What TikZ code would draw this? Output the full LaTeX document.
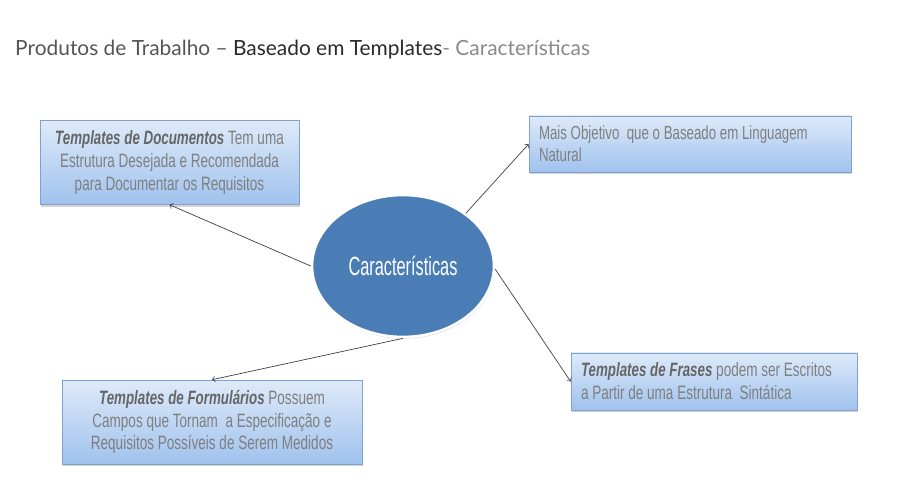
\documentclass[tikz,border=0pt]{standalone}
\usepackage{fontspec}
\usepackage{xcolor}
\usepackage{tikz}
\usetikzlibrary{positioning,shadows,shapes.geometric}
\setmainfont{Liberation Sans}
\newfontfamily\boxfont[FakeStretch=0.7]{Liberation Sans}
\newfontfamily\tplfont[FakeStretch=0.69]{Liberation Sans}
\newfontfamily\ellfont[FakeStretch=0.62]{Liberation Sans}
\newfontfamily\titlefont{Lato}

\definecolor{boxtop}{HTML}{DEEAF9}
\definecolor{boxbottom}{HTML}{A0C2EE}
\definecolor{boxline}{HTML}{7EA1CE}
\definecolor{textgray}{HTML}{7F7F7F}
\definecolor{tplgray}{HTML}{666666}
\definecolor{ellblue}{HTML}{4A7DB5}
\definecolor{titlemid}{HTML}{555555}
\definecolor{titledark}{HTML}{2A2A2A}
\definecolor{titlelight}{HTML}{8A8A8A}

\newcommand{\tplname}[1]{{\tplfont\bfseries\itshape\color{tplgray}#1}}

\begin{document}
\begin{tikzpicture}[
        template/.style={draw=boxline, top color=boxtop, bottom color=boxbottom,
            drop shadow={shadow xshift=0.6pt, shadow yshift=-1.3pt, opacity=0.35},
            inner sep=0.2cm, text=textgray,
            font=\boxfont\fontsize{11}{13}\selectfont},
        link/.style={->, draw=black!75, thin}
    ]
        \useasboundingbox (0,0) rectangle (18.18,-9.96);

        % Title
        \node[anchor=west, font=\titlefont\fontsize{11.9}{14}\selectfont] (title) at (0.18,-1.0)
            {\color{titlemid}Produtos de Trabalho – \color{titledark}Baseado em Templates\color{titlelight}- Características};

        % Center
        \node[ellipse, draw=white, line width=1.5pt, fill=ellblue,
            minimum width=3.64cm, minimum height=2.84cm, text=white,
            drop shadow={shadow xshift=0.4pt, shadow yshift=-1pt, opacity=0.3},
            font=\ellfont\fontsize{15}{17}\selectfont] (carac) at (8.06,-5.32) {Características};

        % Templates de Documentos
        \node[template, minimum width=5.18cm, minimum height=1.58cm, align=center]
            (docs) at (3.39,-3.25)
            {\tplname{Templates de Documentos} Tem uma\\ Estrutura Desejada e Recomendada\\ para Documentar os Requisitos};

        % Mais Objetivo
        \node[template, minimum width=6.44cm, minimum height=1.12cm, text width=6.04cm, align=flush left,
            font=\boxfont\fontsize{10.8}{12.5}\selectfont]
            (objetivo) at (13.8,-2.88)
            {Mais Objetivo\ \ que o Baseado em Linguagem\\ Natural};

        % Templates de Formularios
        \node[template, minimum width=6.0cm, minimum height=1.6cm, align=center]
            (forms) at (4.24,-8.44)
            {\tplname{Templates de Formulários} Possuem\\ Campos que Tornam\ \ a Especificação e\\ Requisitos Possíveis de Serem Medidos};

        % Templates de Frases
        \node[template, minimum width=5.72cm, minimum height=1.14cm, text width=5.32cm, align=flush left]
            (frases) at (14.28,-7.63)
            {\tplname{Templates de Frases} podem ser Escritos\\ a Partir de uma Estrutura\ \ Sintática};

        % Arrows
        \draw[link] (carac.west) -- (docs.south);
        \draw[link] (carac.40) -- (objetivo.west);
        \draw[link] (carac.-2) -- (frases.west);
        \draw[link] (carac.south) -- (forms.north);
    \end{tikzpicture}
\end{document}
